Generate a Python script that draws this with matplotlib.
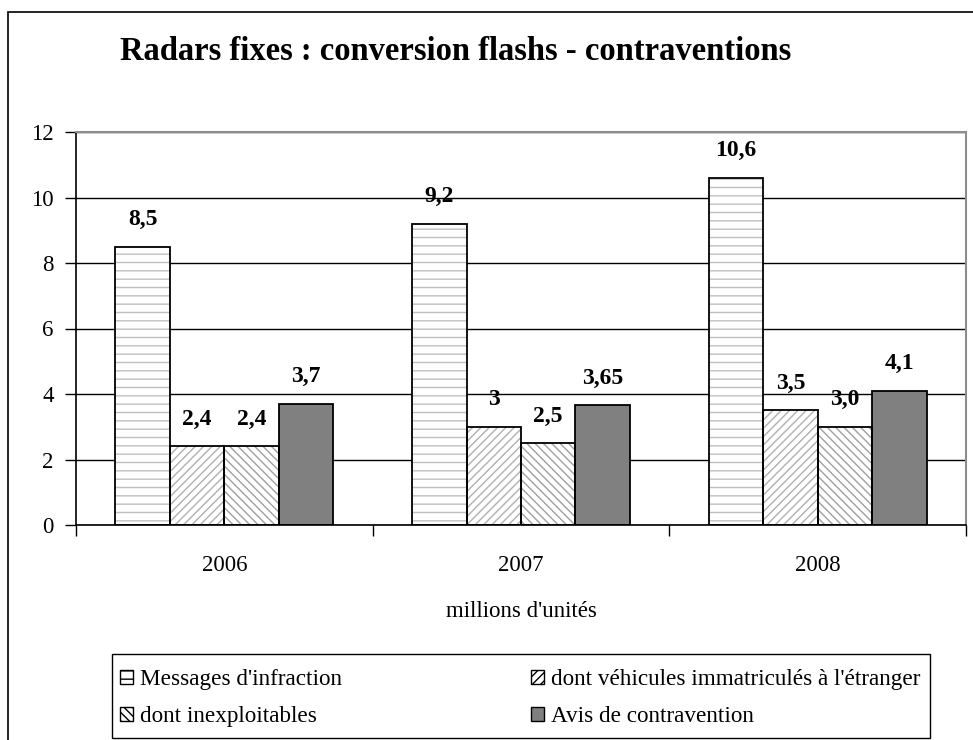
import matplotlib.pyplot as plt
from matplotlib.patches import Patch, Rectangle
import numpy as np

plt.rcParams['font.family'] = ['Liberation Serif', 'DejaVu Serif']
plt.rcParams['hatch.linewidth'] = 1.0

years = ['2006', '2007', '2008']
series = ["Messages d'infraction",
          "dont véhicules immatriculés à l'étranger",
          "dont inexploitables",
          "Avis de contravention"]
messages = [8.5, 9.2, 10.6]
etranger = [2.4, 3.0, 3.5]
inexploitables = [2.4, 2.5, 3.0]
avis = [3.7, 3.65, 4.1]
labels = [['8,5', '9,2', '10,6'],
          ['2,4', '3', '3,5'],
          ['2,4', '2,5', '3,0'],
          ['3,7', '3,65', '4,1']]

values = [messages, etranger, inexploitables, avis]
hatches = ['--', '////', '\\\\\\\\', None]
faces = ['white', 'white', 'white', '#808080']
hatch_cols = ['#c0c0c0', '#b0b0b0', '#a0a0a0', '#808080']

fig = plt.figure(figsize=(9.73, 7.4), dpi=100)
# outer chart frame (runs off the right and bottom edges)
fig.patches.append(Rectangle((8 / 973, -0.1), 1.2, 1.1 - 12 / 740,
                             transform=fig.transFigure, fill=False,
                             edgecolor='black', linewidth=1.2, zorder=0))
# legend box
fig.patches.append(Rectangle((112 / 973, 1 - 738 / 740), 818 / 973, 84 / 740,
                             transform=fig.transFigure, fill=False,
                             edgecolor='black', linewidth=1, zorder=0))
ax = fig.add_axes([76 / 973, 1 - 525 / 740, 890 / 973, 393 / 740])

x = np.arange(len(years))
w = 0.1835
for i, vals in enumerate(values):
    pos = x + (i - 1.5) * w
    ax.bar(pos, vals, w, color=faces[i], hatch=hatches[i],
           edgecolor=hatch_cols[i], linewidth=0, zorder=2)
    ax.bar(pos, vals, w, fill=False, edgecolor='black', linewidth=1.3, zorder=3)
    for p, v, lab in zip(pos, vals, labels[i]):
        ax.annotate(lab, (p, v), xytext=(0, 19.5), textcoords='offset points',
                    ha='center', va='center', fontsize=17, fontweight='bold')

ax.set_xlim(-0.5, 2.5)
ax.set_ylim(0, 12)
ax.set_yticks(range(0, 13, 2))
ax.yaxis.grid(True, color='black', linewidth=1)
ax.set_axisbelow(True)
ax.set_xticks([-0.5, 0.5, 1.5, 2.5])
ax.set_xticklabels([])
ax.set_xticks(x, minor=True)
ax.set_xticklabels(years, minor=True)
ax.tick_params(axis='x', which='minor', length=0, pad=21.5, labelsize=16.5)
ax.tick_params(axis='x', which='major', direction='out', length=8, width=1)
ax.tick_params(axis='y', direction='out', length=8, width=1, labelsize=16.5, pad=8)
for s in ['top', 'right']:
    ax.spines[s].set_color('#8c8c8c')
    ax.spines[s].set_linewidth(1.5)
ax.spines['left'].set_linewidth(1.2)
ax.spines['bottom'].set_linewidth(1.2)
ax.set_xlabel("millions d'unités", fontsize=16.5, labelpad=18)

fig.text(456 / 973, 1 - 52 / 740, 'Radars fixes : conversion flashs - contraventions',
         ha='center', va='center', fontsize=23.5, fontweight='bold')

# row-major order like the original legend
order = [0, 2, 1, 3]
handles = [Patch(facecolor=faces[i], hatch=hatches[i], edgecolor='black', linewidth=1)
           for i in order]
leg = fig.legend(handles, [series[i] for i in order], ncol=2, loc='upper left',
                 bbox_to_anchor=(112 / 973, 1 - 661 / 740), fontsize=16.7,
                 frameon=False,
                 handlelength=0.55, handleheight=0.55, handletextpad=0.3,
                 columnspacing=8.15, borderpad=0.35, labelspacing=0.7,
                 borderaxespad=0)

fig.savefig('out.png', dpi=100)
